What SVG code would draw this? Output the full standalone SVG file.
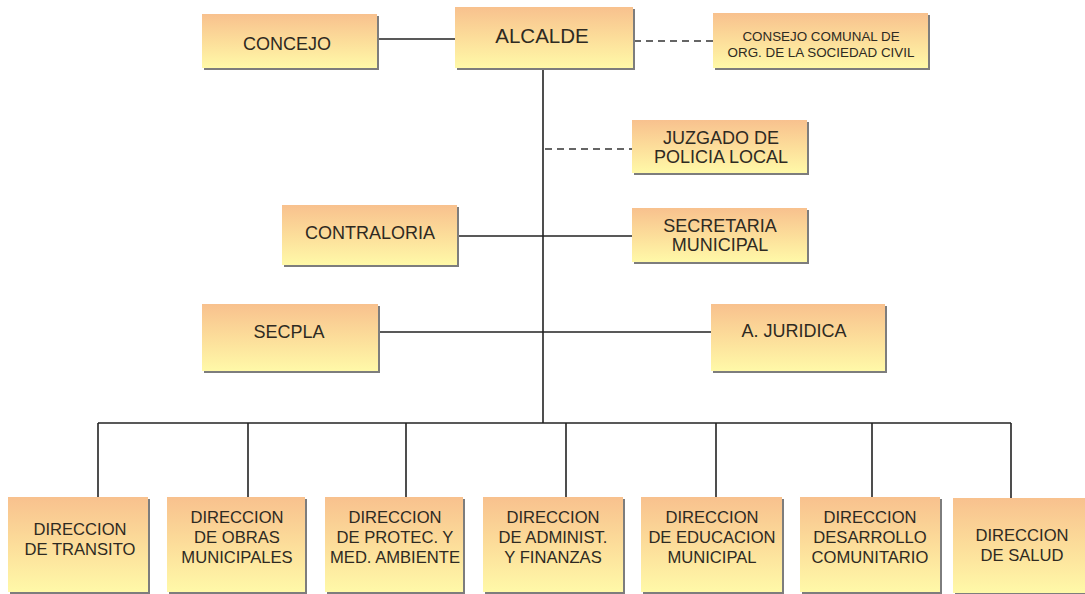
<svg xmlns="http://www.w3.org/2000/svg" width="1085" height="594" viewBox="0 0 1085 594">
<defs>
<linearGradient id="g" x1="0" y1="0" x2="0" y2="1">
<stop offset="0" stop-color="#F8C18E"/>
<stop offset="0.5" stop-color="#FCDD9A"/>
<stop offset="1" stop-color="#FFF9A8"/>
</linearGradient>
<style>
.sh{fill:#7d7d7d}
.bx{fill:url(#g)}
.t{font-family:"Liberation Sans",Arial,sans-serif;fill:#2e2a22;text-anchor:middle;font-size:18px}
.s{font-size:13.4px}
.m{font-size:16.6px}
.ln{stroke:#222;stroke-width:1.6;fill:none}
.ds{stroke:#333;stroke-width:1.5;fill:none;stroke-dasharray:7 5}
</style>
</defs>
<rect width="1085" height="594" fill="#fff"/>
<g id="connectors">
<line class="ln" x1="377" y1="39" x2="456" y2="39"/>
<line class="ds" x1="634" y1="41" x2="713" y2="41"/>
<line class="ln" x1="543" y1="68" x2="543" y2="423"/>
<line class="ds" x1="545" y1="149" x2="632" y2="149"/>
<line class="ln" x1="457" y1="236" x2="632" y2="236"/>
<line class="ln" x1="378" y1="332" x2="711" y2="332"/>
<line class="ln" x1="98" y1="423" x2="1011" y2="423"/>
<line class="ln" x1="98" y1="423" x2="98" y2="497"/>
<line class="ln" x1="248" y1="423" x2="248" y2="497"/>
<line class="ln" x1="406" y1="423" x2="406" y2="497"/>
<line class="ln" x1="566" y1="423" x2="566" y2="497"/>
<line class="ln" x1="716" y1="423" x2="716" y2="497"/>
<line class="ln" x1="872" y1="423" x2="872" y2="497"/>
<line class="ln" x1="1011" y1="423" x2="1011" y2="498"/>
</g>
<g id="concejo">
<rect class="sh" x="204" y="16" width="175" height="54"/>
<rect class="bx" x="202" y="14" width="175" height="54"/>
<text class="t" x="287" y="50">CONCEJO</text>
</g>
<g id="alcalde">
<rect class="sh" x="457" y="9" width="178" height="61"/>
<rect class="bx" x="455" y="7" width="178" height="61"/>
<text class="t" x="542" y="43" style="font-size:20.5px">ALCALDE</text>
</g>
<g id="consejo">
<rect class="sh" x="715" y="15" width="215" height="55"/>
<rect class="bx" x="713" y="13" width="215" height="55"/>
<text class="t s" x="821" y="41">CONSEJO COMUNAL DE</text>
<text class="t s" x="821" y="57">ORG. DE LA SOCIEDAD CIVIL</text>
</g>
<g id="juzgado">
<rect class="sh" x="634" y="122" width="175" height="53"/>
<rect class="bx" x="632" y="120" width="175" height="53"/>
<text class="t" x="721" y="144">JUZGADO DE</text>
<text class="t" x="721" y="163">POLICIA LOCAL</text>
</g>
<g id="contraloria">
<rect class="sh" x="284" y="207" width="175" height="60"/>
<rect class="bx" x="282" y="205" width="175" height="60"/>
<text class="t" x="370" y="239">CONTRALORIA</text>
</g>
<g id="secretaria">
<rect class="sh" x="634" y="210" width="175" height="54"/>
<rect class="bx" x="632" y="208" width="175" height="54"/>
<text class="t" x="720" y="232">SECRETARIA</text>
<text class="t" x="720" y="251">MUNICIPAL</text>
</g>
<g id="secpla">
<rect class="sh" x="204" y="306" width="176" height="67"/>
<rect class="bx" x="202" y="304" width="176" height="67"/>
<text class="t" x="289" y="338">SECPLA</text>
</g>
<g id="juridica">
<rect class="sh" x="713" y="306" width="174" height="67"/>
<rect class="bx" x="711" y="304" width="174" height="67"/>
<text class="t" x="794" y="337">A. JURIDICA</text>
</g>
<g id="d-transito">
<rect class="sh" x="10" y="499" width="140" height="95"/>
<rect class="bx" x="8" y="497" width="140" height="95"/>
<text class="t m" x="80" y="535">DIRECCION</text>
<text class="t m" x="80" y="555">DE TRANSITO</text>
</g>
<g id="d-obras">
<rect class="sh" x="169" y="499" width="138" height="95"/>
<rect class="bx" x="167" y="497" width="138" height="95"/>
<text class="t m" x="237" y="523">DIRECCION</text>
<text class="t m" x="237" y="543">DE OBRAS</text>
<text class="t m" x="237" y="563">MUNICIPALES</text>
</g>
<g id="d-protec">
<rect class="sh" x="327" y="499" width="138" height="95"/>
<rect class="bx" x="325" y="497" width="138" height="95"/>
<text class="t m" x="395" y="523">DIRECCION</text>
<text class="t m" x="395" y="543">DE PROTEC. Y</text>
<text class="t m" x="395" y="563">MED. AMBIENTE</text>
</g>
<g id="d-administ">
<rect class="sh" x="485" y="499" width="140" height="95"/>
<rect class="bx" x="483" y="497" width="140" height="95"/>
<text class="t m" x="553" y="523">DIRECCION</text>
<text class="t m" x="553" y="543">DE ADMINIST.</text>
<text class="t m" x="553" y="563">Y FINANZAS</text>
</g>
<g id="d-educacion">
<rect class="sh" x="643" y="499" width="141" height="95"/>
<rect class="bx" x="641" y="497" width="141" height="95"/>
<text class="t m" x="712" y="523">DIRECCION</text>
<text class="t m" x="712" y="543">DE EDUCACION</text>
<text class="t m" x="712" y="563">MUNICIPAL</text>
</g>
<g id="d-desarrollo">
<rect class="sh" x="802" y="499" width="140" height="95"/>
<rect class="bx" x="800" y="497" width="140" height="95"/>
<text class="t m" x="870" y="523">DIRECCION</text>
<text class="t m" x="870" y="543">DESARROLLO</text>
<text class="t m" x="870" y="563">COMUNITARIO</text>
</g>
<g id="d-salud">
<rect class="sh" x="955" y="500" width="132" height="95"/>
<rect class="bx" x="953" y="498" width="132" height="95"/>
<text class="t m" x="1022" y="541">DIRECCION</text>
<text class="t m" x="1022" y="561">DE SALUD</text>
</g>
</svg>
